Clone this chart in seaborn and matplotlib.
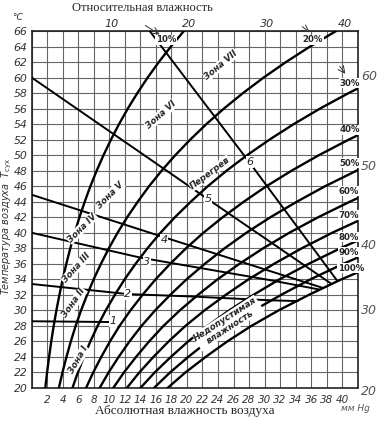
import numpy as np
import pandas as pd
import matplotlib
matplotlib.use("Agg")
import matplotlib.pyplot as plt
import seaborn as sns

# ---------------- data ----------------
# saturation curve (100 %): air temperature (deg C) vs vapour pressure (mm Hg)
T_sat = [20, 22, 24, 26, 28, 30, 32, 34, 36, 38, 40, 42, 44, 46, 48, 50,
         52, 54, 56, 58, 60, 62, 64, 66]
E_sat = [17.5, 19.8, 22.4, 25.2, 28.3, 31.8, 35.7, 39.9, 44.6, 49.7, 55.3,
         61.5, 68.3, 75.6, 83.7, 92.5, 102.1, 112.5, 123.8, 136.1, 149.4,
         163.8, 179.3, 196.1]
rh_levels = [10, 20, 30, 40, 50, 60, 70, 80, 90, 100]

# zone boundary lines 1..6 (absolute humidity x, temperature T)
line1_x = [0, 10.2];                 line1_T = [28.6, 28.5]
line2_x = [0, 12.4, 20.4, 30.7, 34.3]; line2_T = [33.4, 32.1, 31.8, 31.3, 31.2]
line3_x = [0, 14.0, 30.7, 37.0];     line3_T = [40.0, 36.8, 33.9, 32.7]
line4_x = [0, 16.5, 37.5];           line4_T = [44.9, 39.6, 32.9]
line5_x = [0, 22.6, 38.5];           line5_T = [60.0, 44.4, 33.5]
line6_x = [15.2, 28.1, 39.3];        line6_T = [66.0, 49.0, 33.9]

x_ticks = list(range(2, 41, 2))
y_ticks = list(range(20, 67, 2))
top_ticks = [10, 20, 30, 40]
right_labels = ["60", "50", "40", "30", "20"]
right_label_T = [60.1, 48.5, 38.3, 30.05, 19.6]

# ---------------- build tables ----------------
rows = []
for rh in rh_levels:
    for t, e in zip(T_sat, E_sat):
        rows.append({"curve": f"{rh}%", "x": rh / 100 * e, "T": t})
rh_df = pd.DataFrame(rows)

lines = {"1": (line1_x, line1_T), "2": (line2_x, line2_T), "3": (line3_x, line3_T),
         "4": (line4_x, line4_T), "5": (line5_x, line5_T), "6": (line6_x, line6_T)}
lrows = []
for name, (xs, ts) in lines.items():
    for i, (xv, tv) in enumerate(zip(xs, ts)):
        lrows.append({"line": name, "x": xv, "T": tv, "order": i})
line_df = pd.DataFrame(lrows)

# ---------------- figure ----------------
sns.set_theme(style="white")
plt.rcParams["font.family"] = ["DejaVu Sans"]
W, H = 380, 423
fig = plt.figure(figsize=(W / 100, H / 100), dpi=100)
ax = fig.add_axes([31.7 / W, 1 - 388 / H, 326 / W, 357 / H])

def fp(x, y):
    return (x / W, 1 - y / H)

sns.lineplot(data=rh_df, x="x", y="T", units="curve", estimator=None, sort=False,
             color="black", lw=1.7, ax=ax, legend=False, zorder=3)
sns.lineplot(data=line_df, x="x", y="T", units="line", estimator=None, sort=False,
             color="black", lw=1.4, ax=ax, legend=False, zorder=3)

ax.set_xlim(0, 42)
ax.set_ylim(20, 66)
ax.set_xticks(np.arange(0, 43, 2))
ax.set_xticklabels(["" if v not in x_ticks else str(v) for v in range(0, 43, 2)],
                   fontsize=7.5, style="italic", color="#333333")
ax.set_yticks(y_ticks)
ax.set_yticklabels([str(v) for v in y_ticks], fontsize=7.8, style="italic", color="#333333")
ax.tick_params(axis="both", length=0)
ax.tick_params(axis="x", pad=5)
ax.tick_params(axis="y", pad=3)
ax.grid(True, color="#666666", lw=0.8)
ax.set_axisbelow(True)
for s in ax.spines.values():
    s.set_color("#222222")
    s.set_linewidth(1.2)
ax.set_xlabel("")
ax.set_ylabel("")

# top tick labels
for v in top_ticks:
    px = 31.7 + (v + 0.3) * 326 / 42
    fig.text(*fp(px, 24), str(v), ha="center", va="center", fontsize=8,
             style="italic", color="#333333")

# right-hand scale
for lab, t in zip(right_labels, right_label_T):
    ax.text(42.4, t, lab, ha="left", va="center", fontsize=9, style="italic",
            color="#555555", clip_on=False)

# relative humidity labels
rh_label_px = {"10%": (166, 40), "20%": (313, 40), "30%": (350, 83), "40%": (350, 130),
               "50%": (349, 163), "60%": (349, 191), "70%": (349, 215), "80%": (349, 237),
               "90%": (349, 252), "100%": (351, 268)}
for lab, (px, py) in rh_label_px.items():
    fig.text(*fp(px, py), lab, ha="center", va="center", fontsize=6.2, fontweight="bold",
             family=["Liberation Sans Narrow", "DejaVu Sans"], zorder=6,
             bbox=dict(facecolor="white", edgecolor="none", pad=0.3))

# zone labels
zone_labels = [("Зона I", 78, 360, 60), ("Зона II", 74, 303, 55), ("Зона III", 76, 268, 48),
               ("Зона IV", 82, 228, 45), ("Зона V", 110, 195, 45), ("Зона VI", 161, 115, 42),
               ("Зона VII", 221, 65, 40), ("Перегрев", 210, 173, 37)]
for lab, px, py, rot in zone_labels:
    fig.text(*fp(px, py), lab, ha="center", va="center", rotation=rot, fontsize=6.3,
             fontweight="bold", style="italic", zorder=6,
             bbox=dict(facecolor="white", edgecolor="none", pad=0.3))

fig.text(*fp(228, 323), "Недопустимая\nвлажность", ha="center", va="center", rotation=33,
         fontsize=6.3, fontweight="bold", style="italic", linespacing=1.1, zorder=6,
         bbox=dict(facecolor="white", edgecolor="none", pad=0.3))

# line numbers
num_px = {"1": (113, 321), "2": (128, 294), "3": (147, 262), "4": (164, 240),
          "5": (208, 199), "6": (250, 162)}
for lab, (px, py) in num_px.items():
    fig.text(*fp(px, py), lab, ha="center", va="center", fontsize=8, style="italic",
             zorder=6, bbox=dict(facecolor="white", edgecolor="none", pad=0.6))

# titles
fig.text(*fp(142, 8), "Относительная влажность", ha="center", va="center", fontsize=9,
         family=["Liberation Serif"])
fig.text(*fp(185, 411), "Абсолютная влажность воздуха", ha="center", va="center",
         fontsize=9.5, family=["Liberation Serif"])
fig.text(*fp(6.5, 226), r"Температура воздуха  $T_{\mathrm{сух}}$", ha="center", va="center",
         rotation=90, fontsize=7.0, style="italic", color="#333333")
fig.text(*fp(18, 17), "°C", ha="center", va="center", fontsize=6.5, style="italic",
         color="#333333")
fig.text(*fp(355, 408), "мм Hg", ha="center", va="center", fontsize=6.5, style="italic",
         color="#555555")

# arrows
for (x0, y0), (x1, y1) in [((143, 24), (162, 36)), ((300, 25), (312, 34)),
                           ((338, 64), (347, 76))]:
    ax.annotate("", xy=fp(x1, y1), xytext=fp(x0, y0), xycoords="figure fraction",
                textcoords="figure fraction",
                arrowprops=dict(arrowstyle="->", color="#333333", lw=0.7))

fig.savefig("out.png", dpi=100, facecolor="white")
